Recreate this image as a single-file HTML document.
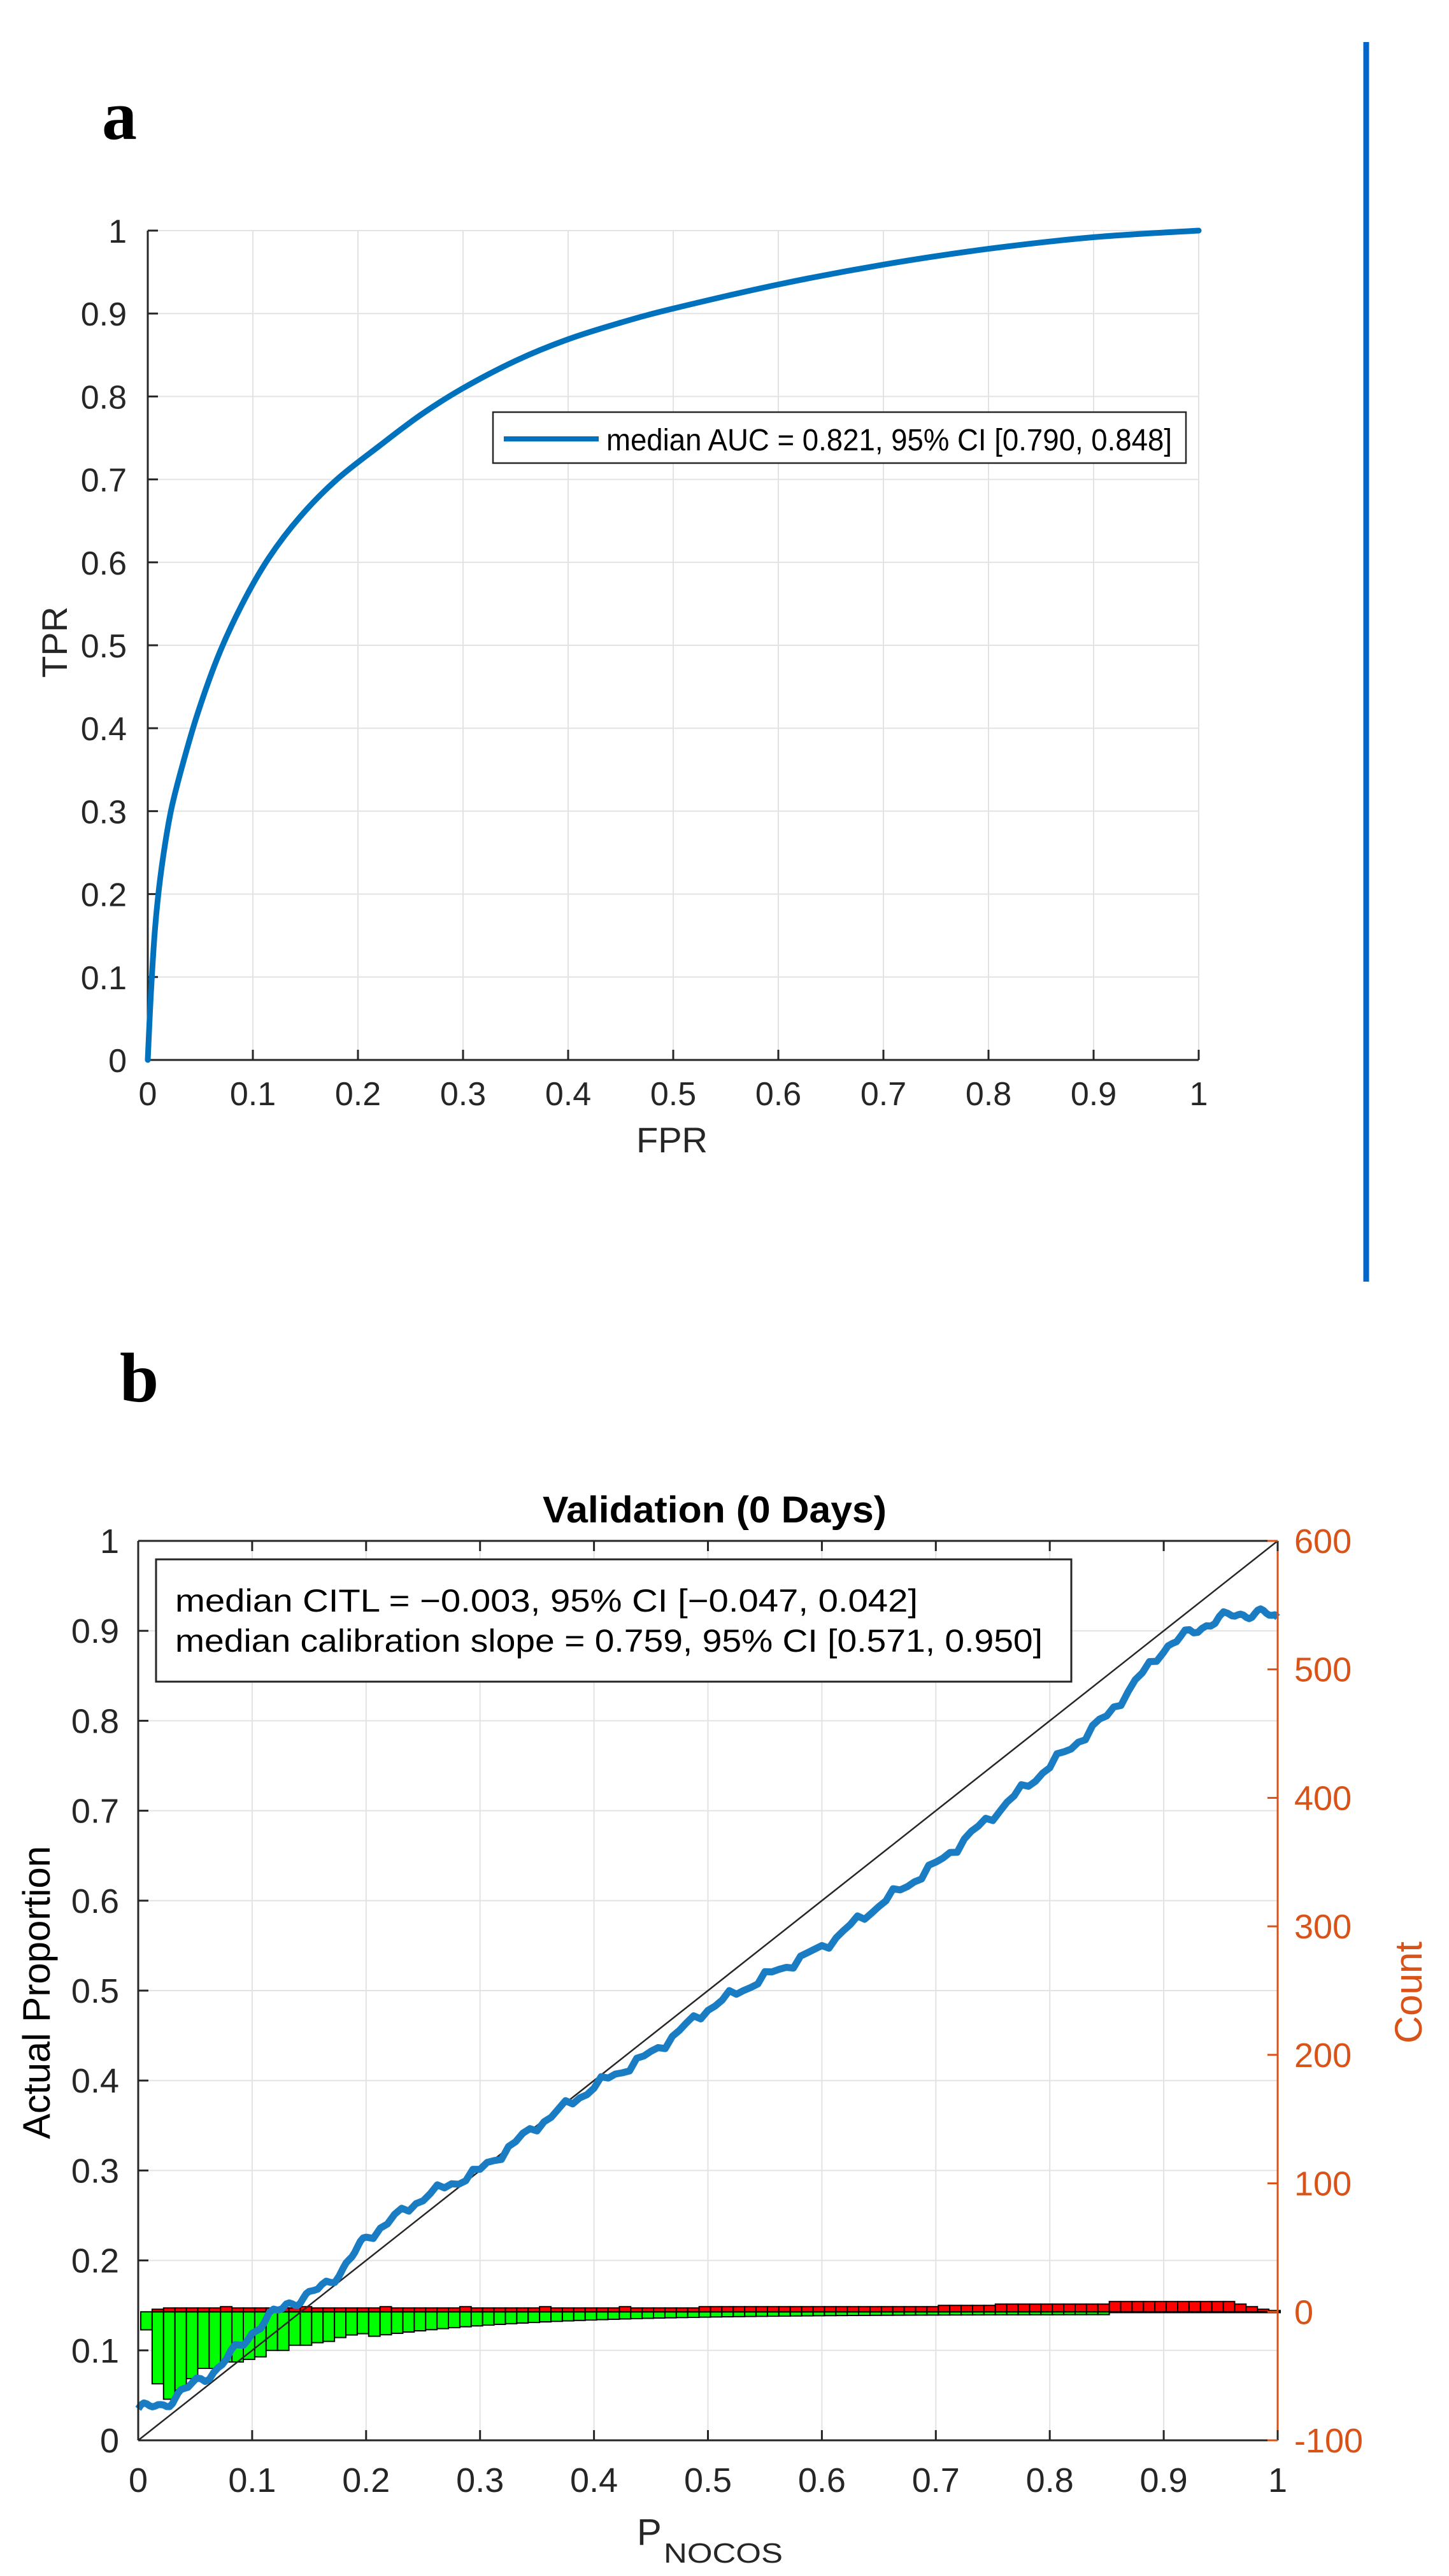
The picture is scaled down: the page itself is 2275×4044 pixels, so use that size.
<!DOCTYPE html>
<html><head><meta charset="utf-8">
<style>
html,body{margin:0;padding:0;background:#fff;}
svg{display:block;}
text{font-family:"Liberation Sans",Arial,sans-serif;}
</style></head>
<body>
<svg id="s" xmlns="http://www.w3.org/2000/svg" width="2275" height="4044" viewBox="0 0 2275 4044">
<rect width="2275" height="4044" fill="#fff"/>
<line x1="2145" y1="66" x2="2145" y2="2012" stroke="#0066CC" stroke-width="9"/>
<text x="160" y="218" font-weight="bold" font-size="110" fill="#000" style="font-family:'Liberation Serif',serif">a</text>
<text x="188" y="2200" font-weight="bold" font-size="110" fill="#000" style="font-family:'Liberation Serif',serif">b</text>
<g id="A"></g>
<g id="B"></g>
<text x="1055" y="1809" font-size="56" fill="#262626" text-anchor="middle">FPR</text>
<text transform="translate(105,1008) rotate(-90)" font-size="56" fill="#262626" text-anchor="middle">TPR</text>
<text x="1122" y="2390" font-size="58" font-weight="bold" fill="#000" text-anchor="middle" textLength="540" lengthAdjust="spacingAndGlyphs">Validation (0 Days)</text>
<text transform="translate(78,3128) rotate(-90)" font-size="60" fill="#000" text-anchor="middle">Actual Proportion</text>
<text transform="translate(2232,3128) rotate(-90)" font-size="60" fill="#D95319" text-anchor="middle">Count</text>
<text x="1000" y="3995" font-size="58" fill="#262626">P</text>
<text x="1042" y="4023" font-size="44" fill="#262626" textLength="187" lengthAdjust="spacingAndGlyphs">NOCOS</text>
</svg>
<script>
var NS="http://www.w3.org/2000/svg";
function el(p,tag,attrs,txt){var e=document.createElementNS(NS,tag);for(var k in attrs)e.setAttribute(k,attrs[k]);if(txt!==undefined)e.textContent=txt;p.appendChild(e);return e;}
function crPath(P){ // catmull-rom to bezier
  var d='M'+P[0][0].toFixed(1)+','+P[0][1].toFixed(1);
  for(var i=0;i<P.length-1;i++){
    var p0=P[i-1]||P[i],p1=P[i],p2=P[i+1],p3=P[i+2]||P[i+1];
    var c1x=p1[0]+(p2[0]-p0[0])/6,c1y=p1[1]+(p2[1]-p0[1])/6;
    var c2x=p2[0]-(p3[0]-p1[0])/6,c2y=p2[1]-(p3[1]-p1[1])/6;
    d+=' C'+c1x.toFixed(1)+','+c1y.toFixed(1)+' '+c2x.toFixed(1)+','+c2y.toFixed(1)+' '+p2[0].toFixed(1)+','+p2[1].toFixed(1);
  }
  return d;
}
// ---------- Chart A ----------
var A=document.getElementById('A');
var aL=232,aR=1882,aT=362,aB=1664;
function ax(v){return aL+v*(aR-aL);} function ay(v){return aB-v*(aB-aT);}
for(var i=1;i<=10;i++){
  el(A,'line',{x1:ax(i/10),y1:aT,x2:ax(i/10),y2:aB,stroke:'#e3e3e3','stroke-width':2});
  el(A,'line',{x1:aL,y1:ay(i/10),x2:aR,y2:ay(i/10),stroke:'#e3e3e3','stroke-width':2});
}
el(A,'line',{x1:aL,y1:aT,x2:aL,y2:aB,stroke:'#262626','stroke-width':3});
el(A,'line',{x1:aL,y1:aB,x2:aR,y2:aB,stroke:'#262626','stroke-width':3});
for(var i=0;i<=10;i++){
  var v=i/10, lab=(i==10?'1':(i==0?'0':v.toFixed(1)));
  el(A,'line',{x1:aL,y1:ay(v),x2:aL+16,y2:ay(v),stroke:'#262626','stroke-width':3});
  el(A,'line',{x1:ax(v),y1:aB,x2:ax(v),y2:aB-16,stroke:'#262626','stroke-width':3});
  el(A,'text',{x:199,y:ay(v)+19,'font-size':52,fill:'#262626','text-anchor':'end'},lab);
  el(A,'text',{x:ax(v),y:1735,'font-size':52,fill:'#262626','text-anchor':'middle'},lab);
}
var roc=[[0,0],[0.003,0.08],[0.007,0.16],[0.013,0.23],[0.022,0.3],[0.034,0.36],[0.048,0.42],[0.068,0.49],[0.09,0.55],[0.115,0.605],[0.145,0.655],[0.18,0.7],[0.22,0.74],[0.26,0.778],[0.3,0.81],[0.35,0.843],[0.4,0.869],[0.45,0.889],[0.5,0.906],[0.6,0.935],[0.7,0.959],[0.8,0.978],[0.9,0.992],[1,1]];
el(A,'path',{d:crPath(roc.map(function(p){return [ax(p[0]),ay(p[1])];})),fill:'none',stroke:'#0072BD','stroke-width':9,'stroke-linejoin':'round','stroke-linecap':'round'});
el(A,'rect',{x:774,y:647,width:1088,height:80,fill:'#fff',stroke:'#262626','stroke-width':2.5});
el(A,'line',{x1:791,y1:689,x2:940,y2:689,stroke:'#0072BD','stroke-width':8});
el(A,'text',{x:952,y:707,'font-size':48,fill:'#000',textLength:888,lengthAdjust:'spacingAndGlyphs'},'median AUC = 0.821, 95% CI [0.790, 0.848]');
// ---------- Chart B ----------
var B=document.getElementById('B');
var bL=217,bR=2006,bT=2419,bB=3831;
function bx(v){return bL+v*(bR-bL);} function by(v){return bB-v*(bB-bT);}
function bc(c){return bB-(c+100)*(bB-bT)/700;}
for(var i=1;i<=10;i++){
  el(B,'line',{x1:bx(i/10),y1:bT,x2:bx(i/10),y2:bB,stroke:'#e3e3e3','stroke-width':2});
  el(B,'line',{x1:bL,y1:by(i/10),x2:bR,y2:by(i/10),stroke:'#e3e3e3','stroke-width':2});
}
var g=[14,56,68,61,52,44,44,39,39,37,35,30,30,26,26,24,23,20,18,17];
for(var i=20;i<100;i++){g.push(i<85?17*Math.exp(-(i-20)/14)+2:0.6);}
var r=[0,2,3,3,3];
for(var i=5;i<100;i++){var v;
 if(i<50)v=3+(i%7==0?1:0);else if(i<70)v=4;else if(i<75)v=5;else if(i<85)v=6;else if(i<96)v=8;else v=[6,4,2,1][i-96];r.push(v);}
for(var i=0;i<100;i++){
  var x0=bx(i/100)+4,w=(bR-bL)/100;
  el(B,'rect',{x:x0,y:bc(0),width:w,height:g[i]*2.017,fill:'#00FF00',stroke:'#000','stroke-width':2});
}
for(var i=0;i<100;i++){
  var x0=bx(i/100)+4,w=(bR-bL)/100;
  if(r[i]>0)el(B,'rect',{x:x0,y:bc(r[i]),width:w,height:r[i]*2.017,fill:'#FF0000',stroke:'#000','stroke-width':2});
}
el(B,'line',{x1:bx(0),y1:by(0),x2:bx(1),y2:by(1),stroke:'#262626','stroke-width':2.5});
var cp=[[0,0.035],[0.02,0.038],[0.04,0.055],[0.07,0.08],[0.1,0.12],[0.13,0.152],[0.15,0.16],[0.18,0.19],[0.2,0.225],[0.25,0.27],[0.3,0.3],[0.35,0.35],[0.4,0.393],[0.45,0.43],[0.5,0.48],[0.55,0.515],[0.6,0.548],[0.65,0.595],[0.7,0.64],[0.75,0.695],[0.8,0.75],[0.85,0.805],[0.9,0.88],[0.93,0.903],[0.96,0.918],[0.98,0.92],[1,0.915]];
var pts=[];
for(var k=0;k<cp.length-1;k++){
  for(var t=0;t<8;t++){var f=t/8;var x=cp[k][0]+(cp[k+1][0]-cp[k][0])*f;var y=cp[k][1]+(cp[k+1][1]-cp[k][1])*f;
   y+=0.004*Math.sin(x*173)+0.003*Math.sin(x*391);pts.push([x,y]);}
}
pts.push(cp[cp.length-1]);
var d='M'+pts.map(function(p){return bx(p[0]).toFixed(1)+','+by(p[1]).toFixed(1);}).join(' L');
el(B,'path',{d:d,fill:'none',stroke:'#1A7DC4','stroke-width':11,'stroke-linejoin':'round'});
el(B,'line',{x1:bL,y1:bT,x2:bR,y2:bT,stroke:'#262626','stroke-width':3});
el(B,'line',{x1:bL,y1:bT,x2:bL,y2:bB,stroke:'#262626','stroke-width':3});
el(B,'line',{x1:bL,y1:bB,x2:bR,y2:bB,stroke:'#262626','stroke-width':3});
el(B,'line',{x1:bR,y1:bT,x2:bR,y2:bB,stroke:'#D95319','stroke-width':3});
for(var i=0;i<=10;i++){
  var v=i/10, lab=(i==10?'1':(i==0?'0':v.toFixed(1)));
  el(B,'line',{x1:bL,y1:by(v),x2:bL+16,y2:by(v),stroke:'#262626','stroke-width':3});
  el(B,'line',{x1:bx(v),y1:bB,x2:bx(v),y2:bB-16,stroke:'#262626','stroke-width':3});
  el(B,'line',{x1:bx(v),y1:bT,x2:bx(v),y2:bT+16,stroke:'#262626','stroke-width':3});
  el(B,'text',{x:187,y:by(v)+19,'font-size':54,fill:'#262626','text-anchor':'end'},lab);
  el(B,'text',{x:bx(v),y:3912,'font-size':54,fill:'#262626','text-anchor':'middle'},lab);
}
for(var c=-100;c<=600;c+=100){
  el(B,'line',{x1:bR,y1:bc(c),x2:bR-16,y2:bc(c),stroke:'#D95319','stroke-width':3});
  el(B,'text',{x:2032,y:bc(c)+19,'font-size':54,fill:'#D95319'},String(c));
}
el(B,'rect',{x:245,y:2448,width:1437,height:192,fill:'#fff',stroke:'#262626','stroke-width':3});
el(B,'text',{x:275,y:2530,'font-size':50,fill:'#000',textLength:1166,lengthAdjust:'spacingAndGlyphs'},'median CITL = \u22120.003, 95% CI [\u22120.047, 0.042]');
el(B,'text',{x:275,y:2593,'font-size':50,fill:'#000',textLength:1362,lengthAdjust:'spacingAndGlyphs'},'median calibration slope = 0.759, 95% CI [0.571, 0.950]');
</script>
</body></html>
